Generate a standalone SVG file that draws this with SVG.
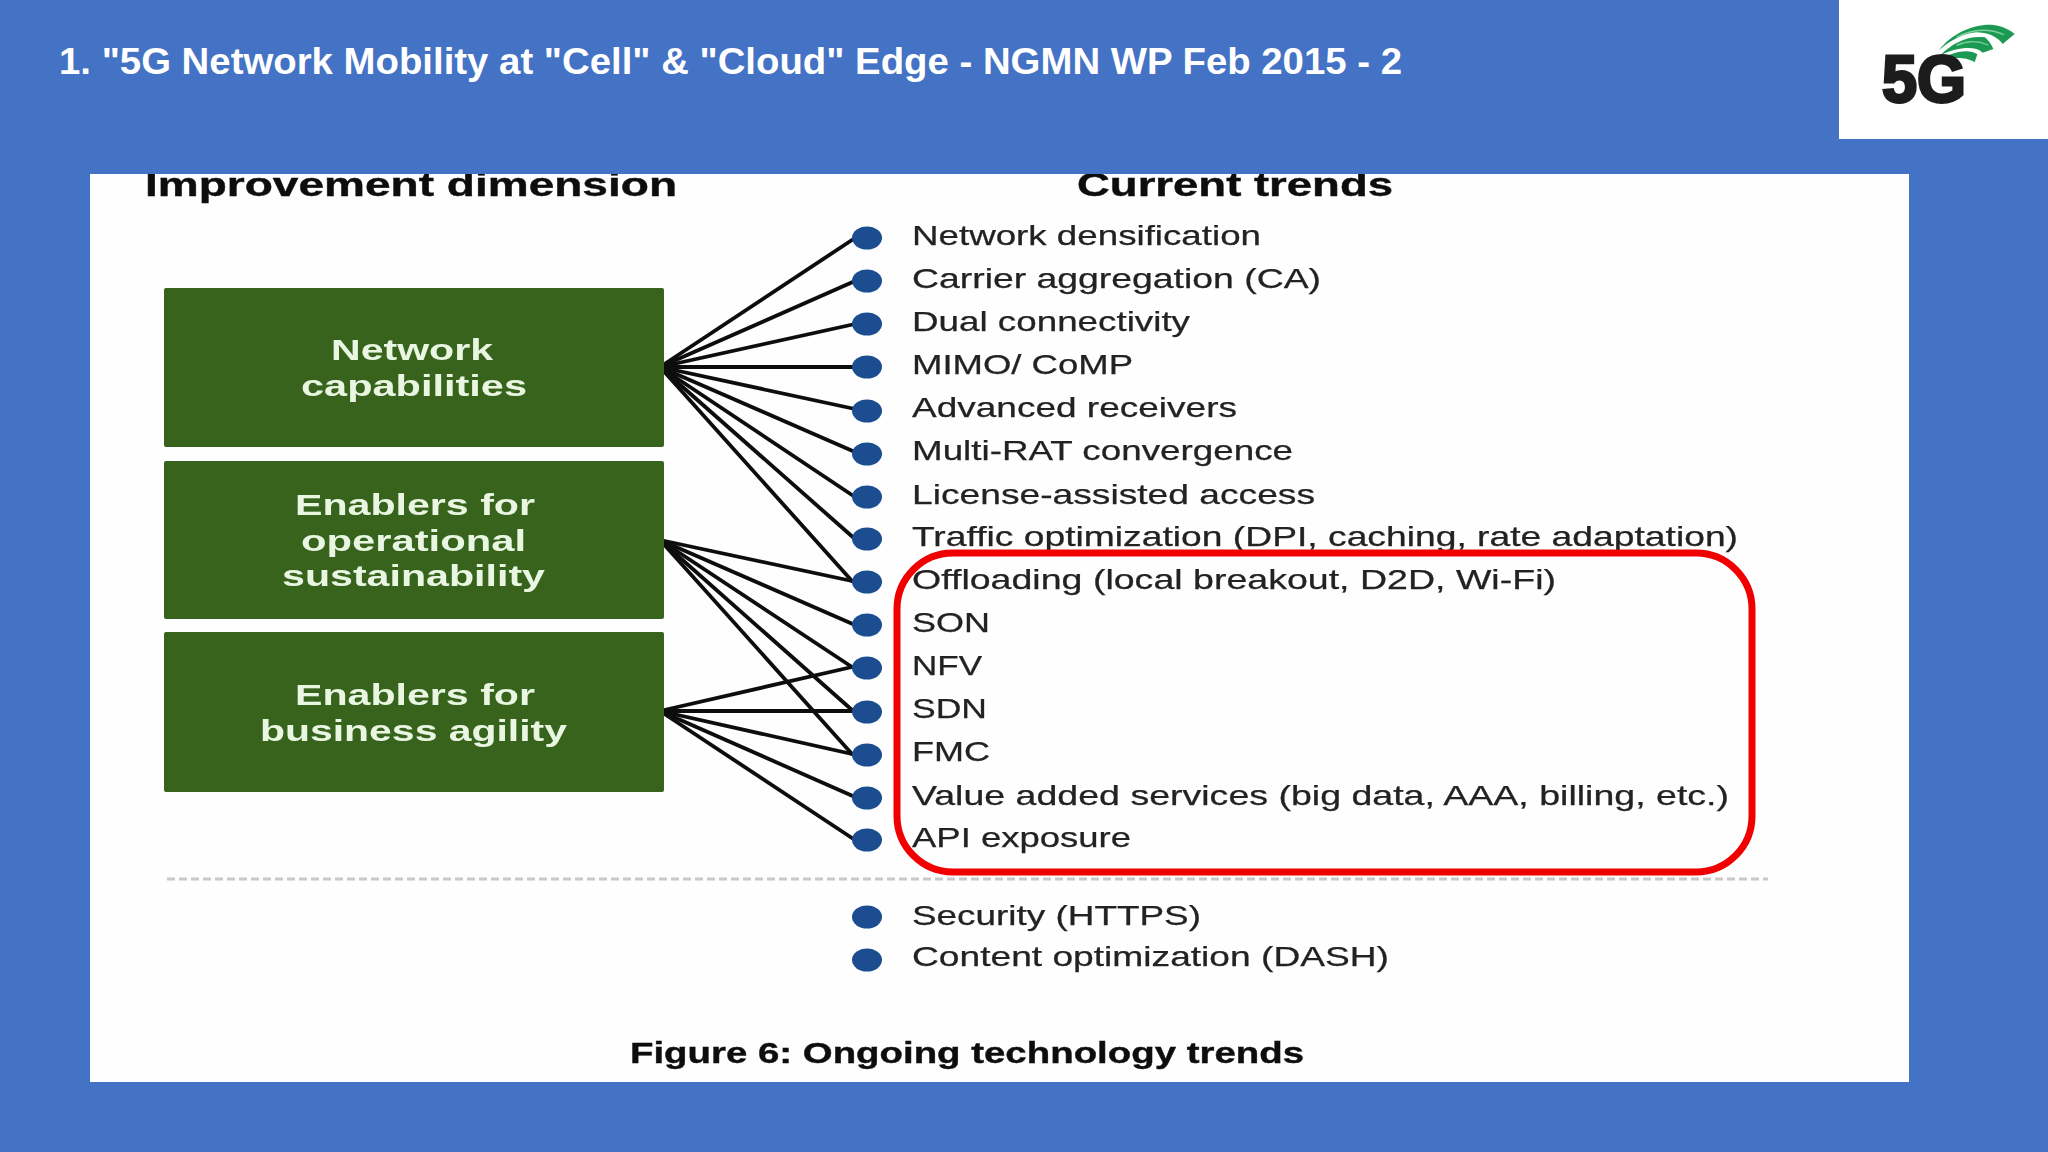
<svg xmlns="http://www.w3.org/2000/svg" width="2048" height="1152" viewBox="0 0 2048 1152">
<style>
text{font-family:"Liberation Sans",Arial,sans-serif}
.title{font-size:37px;font-weight:700;fill:#fff}
.head{font-size:33px;font-weight:700;fill:#111;stroke:#111;stroke-width:.4}
.item{font-size:28px;fill:#222;stroke:#222;stroke-width:.25}
.box{fill:#38641f}
.boxt{font-size:30px;font-weight:700;fill:#e9f6e2}
.dot{fill:#1d4e90}
.conn line{stroke:#0c0c0c;stroke-width:3.8;stroke-linecap:round}
.wave{fill:#1c9a52}
.shine{fill:none;stroke:#7ed09c;stroke-width:4}
</style>
<defs>
<filter id="soft" x="-2%" y="-2%" width="104%" height="104%"><feGaussianBlur stdDeviation="0.7"/></filter>
<clipPath id="panelclip"><rect x="90" y="174" width="1819" height="908"/></clipPath>
</defs>
<rect width="2048" height="1152" fill="#4472c4"/>
<text id="title" class="title" x="59" y="74" textLength="1343" lengthAdjust="spacingAndGlyphs">1. "5G Network Mobility at "Cell" &amp; "Cloud" Edge - NGMN WP Feb 2015 - 2</text>
<g id="logo">
<rect x="1839" y="0" width="209" height="139" fill="#fff"/>
<g transform="translate(1780 0) scale(.33333)" filter="url(#soft)">
<path class="wave" d="M478 150C515 100 585 70 640 75C668 78 690 90 704 102L668 132C650 108 620 97 588 97C550 100 510 122 478 150Z"/>
<path class="wave" d="M482 165C515 130 565 105 615 112C625 120 635 135 640 147L608 158C585 135 530 143 482 165Z"/>
<path class="wave" d="M480 180C520 152 570 146 592 163L584 187C565 172 520 170 480 180Z"/>
<path class="shine" d="M530 112C575 88 625 84 672 104"/>
<path class="shine" d="M530 136C560 122 590 120 625 135"/>
</g>
<text x="1882" y="102" font-size="66" font-weight="700" fill="#1c1c1c" stroke="#1c1c1c" stroke-width="3" textLength="84" lengthAdjust="spacingAndGlyphs" filter="url(#soft)">5G</text>
</g>
<rect id="panel" x="90" y="174" width="1819" height="908" fill="#fefefe"/>
<g clip-path="url(#panelclip)"><g filter="url(#soft)">
<g id="headers">
<text class="head" x="145" y="196" textLength="532" lengthAdjust="spacingAndGlyphs">Improvement dimension</text>
<text class="head" x="1077" y="196" textLength="316" lengthAdjust="spacingAndGlyphs">Current trends</text>
</g>
<g id="connectors" class="conn">
<line x1="660" y1="367" x2="855" y2="238"/><line x1="660" y1="367" x2="855" y2="281"/><line x1="660" y1="367" x2="855" y2="324"/><line x1="660" y1="367" x2="855" y2="367"/><line x1="660" y1="367" x2="855" y2="409"/><line x1="660" y1="367" x2="855" y2="452"/><line x1="660" y1="367" x2="855" y2="497"/><line x1="660" y1="367" x2="855" y2="539"/><line x1="660" y1="367" x2="852" y2="581"/>
<line x1="660" y1="540" x2="852" y2="581"/><line x1="660" y1="540" x2="855" y2="625"/><line x1="660" y1="540" x2="852" y2="667"/><line x1="660" y1="540" x2="852" y2="710"/><line x1="660" y1="540" x2="852" y2="754"/>
<line x1="660" y1="711" x2="852" y2="667"/><line x1="660" y1="711" x2="852" y2="711"/><line x1="660" y1="711" x2="852" y2="754"/><line x1="660" y1="711" x2="855" y2="797"/><line x1="660" y1="711" x2="855" y2="840"/>
</g>
<g id="box-network"><rect class="box" x="164" y="288" width="500" height="159" rx="2"/>
<text class="boxt" x="331" y="360" textLength="162" lengthAdjust="spacingAndGlyphs">Network</text>
<text class="boxt" x="301" y="396" textLength="226" lengthAdjust="spacingAndGlyphs">capabilities</text></g>
<g id="box-operational"><rect class="box" x="164" y="461" width="500" height="158" rx="2"/>
<text class="boxt" x="295" y="515" textLength="240" lengthAdjust="spacingAndGlyphs">Enablers for</text>
<text class="boxt" x="301" y="551" textLength="225" lengthAdjust="spacingAndGlyphs">operational</text>
<text class="boxt" x="282" y="586" textLength="263" lengthAdjust="spacingAndGlyphs">sustainability</text></g>
<g id="box-business"><rect class="box" x="164" y="632" width="500" height="160" rx="2"/>
<text class="boxt" x="295" y="705" textLength="240" lengthAdjust="spacingAndGlyphs">Enablers for</text>
<text class="boxt" x="260" y="741" textLength="307" lengthAdjust="spacingAndGlyphs">business agility</text></g>
<g id="trend-1"><ellipse class="dot" cx="867" cy="238" rx="15" ry="11.5"/><text class="item" x="912" y="245" textLength="349" lengthAdjust="spacingAndGlyphs">Network densification</text></g>
<g id="trend-2"><ellipse class="dot" cx="867" cy="281" rx="15" ry="11.5"/><text class="item" x="912" y="288" textLength="409" lengthAdjust="spacingAndGlyphs">Carrier aggregation (CA)</text></g>
<g id="trend-3"><ellipse class="dot" cx="867" cy="324" rx="15" ry="11.5"/><text class="item" x="912" y="331" textLength="278" lengthAdjust="spacingAndGlyphs">Dual connectivity</text></g>
<g id="trend-4"><ellipse class="dot" cx="867" cy="367" rx="15" ry="11.5"/><text class="item" x="912" y="374" textLength="221" lengthAdjust="spacingAndGlyphs">MIMO/ CoMP</text></g>
<g id="trend-5"><ellipse class="dot" cx="867" cy="411" rx="15" ry="11.5"/><text class="item" x="912" y="417" textLength="325" lengthAdjust="spacingAndGlyphs">Advanced receivers</text></g>
<g id="trend-6"><ellipse class="dot" cx="867" cy="454" rx="15" ry="11.5"/><text class="item" x="912" y="460" textLength="381" lengthAdjust="spacingAndGlyphs">Multi-RAT convergence</text></g>
<g id="trend-7"><ellipse class="dot" cx="867" cy="497" rx="15" ry="11.5"/><text class="item" x="912" y="504" textLength="403" lengthAdjust="spacingAndGlyphs">License-assisted access</text></g>
<g id="trend-8"><ellipse class="dot" cx="867" cy="539" rx="15" ry="11.5"/><text class="item" x="912" y="546" textLength="826" lengthAdjust="spacingAndGlyphs">Traffic optimization (DPI, caching, rate adaptation)</text></g>
<g id="trend-9"><ellipse class="dot" cx="867" cy="582" rx="15" ry="11.5"/><text class="item" x="912" y="589" textLength="644" lengthAdjust="spacingAndGlyphs">Offloading (local breakout, D2D, Wi-Fi)</text></g>
<g id="trend-10"><ellipse class="dot" cx="867" cy="625" rx="15" ry="11.5"/><text class="item" x="912" y="632" textLength="78" lengthAdjust="spacingAndGlyphs">SON</text></g>
<g id="trend-11"><ellipse class="dot" cx="867" cy="668" rx="15" ry="11.5"/><text class="item" x="912" y="675" textLength="70" lengthAdjust="spacingAndGlyphs">NFV</text></g>
<g id="trend-12"><ellipse class="dot" cx="867" cy="712" rx="15" ry="11.5"/><text class="item" x="912" y="718" textLength="75" lengthAdjust="spacingAndGlyphs">SDN</text></g>
<g id="trend-13"><ellipse class="dot" cx="867" cy="755" rx="15" ry="11.5"/><text class="item" x="912" y="761" textLength="78" lengthAdjust="spacingAndGlyphs">FMC</text></g>
<g id="trend-14"><ellipse class="dot" cx="867" cy="798" rx="15" ry="11.5"/><text class="item" x="912" y="805" textLength="817" lengthAdjust="spacingAndGlyphs">Value added services (big data, AAA, billing, etc.)</text></g>
<g id="trend-15"><ellipse class="dot" cx="867" cy="840" rx="15" ry="11.5"/><text class="item" x="912" y="847" textLength="219" lengthAdjust="spacingAndGlyphs">API exposure</text></g>
<line id="separator" x1="167" y1="879" x2="1768" y2="879" stroke="#c9c9c9" stroke-width="3" stroke-dasharray="8 4"/>
<g id="trend-16"><ellipse class="dot" cx="867" cy="917" rx="15" ry="11.5"/><text class="item" x="912" y="925" textLength="289" lengthAdjust="spacingAndGlyphs">Security (HTTPS)</text></g>
<g id="trend-17"><ellipse class="dot" cx="867" cy="960" rx="15" ry="11.5"/><text class="item" x="912" y="966" textLength="477" lengthAdjust="spacingAndGlyphs">Content optimization (DASH)</text></g>
<text id="caption" class="head" x="630" y="1063" style="font-size:30px" textLength="674" lengthAdjust="spacingAndGlyphs">Figure 6: Ongoing technology trends</text>
</g></g>
<rect id="highlight" x="897" y="553" width="855" height="319" rx="56" fill="none" stroke="#f00000" stroke-width="7"/>
</svg>
